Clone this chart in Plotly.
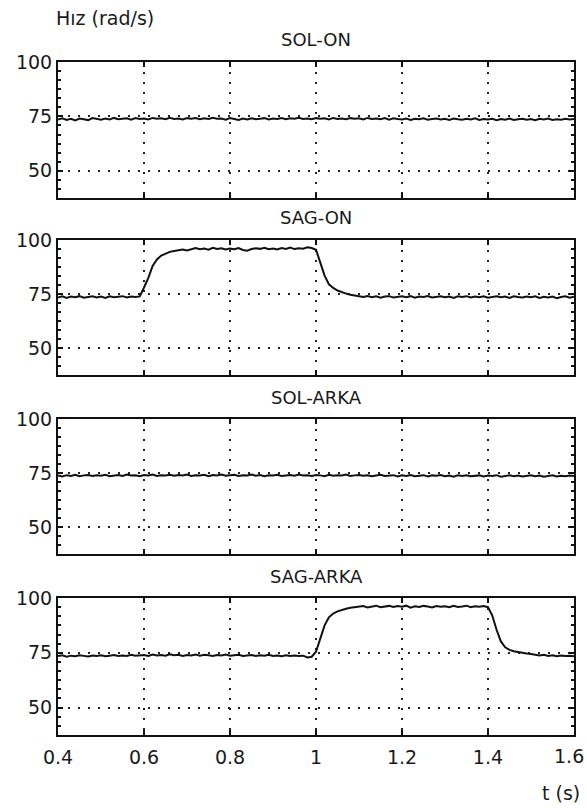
import plotly.graph_objects as go

# ---- data ----
t = [round(0.40 + 0.01 * i, 2) for i in range(121)]

panel_titles = ["SOL-ON", "SAG-ON", "SOL-ARKA", "SAG-ARKA"]

sol_on = [
    73.6, 74.1, 73.4, 73.9, 73.2, 74.0, 73.7, 73.3, 74.2, 73.8,
    73.5, 74.0, 73.6, 74.3, 73.7, 73.9, 74.1, 73.5, 74.2, 73.8,
    74.0, 73.6, 74.3, 73.9, 74.1, 73.7, 74.4, 73.8, 74.0, 73.6,
    74.2, 73.9, 74.3, 73.7, 74.1, 73.8, 74.4, 73.9, 74.0, 73.5,
    74.2, 73.8, 73.4, 74.0, 73.6, 74.1, 73.7, 73.9, 74.2, 73.6,
    74.0, 73.8, 74.3, 73.7, 74.1, 73.9, 74.4, 73.8, 74.0, 73.7,
    74.2, 73.9, 74.1, 73.6, 74.3, 73.8, 74.0, 73.7, 74.2, 73.9,
    74.1, 73.6, 74.3, 73.8, 74.0, 73.7, 74.2, 73.5, 74.1, 73.8,
    73.6, 74.0, 73.4, 73.9, 73.7, 74.1, 73.5, 73.8, 74.0, 73.6,
    73.9, 73.4, 74.0, 73.7, 73.5, 73.9, 73.6, 74.1, 73.4, 73.8,
    73.6, 73.9, 73.3, 73.8, 73.5, 74.0, 73.4, 73.7, 73.9, 73.5,
    73.8, 73.3, 73.9, 73.6, 74.0, 73.4, 73.7, 73.5, 73.9, 73.6,
    73.8,
]

sag_on = [
    73.4, 73.9, 73.2, 73.8, 73.5, 74.0, 73.3, 73.7, 73.9, 73.4,
    73.8, 73.2, 73.9, 73.5, 73.7, 74.0, 73.4, 73.8, 73.6, 73.9,
    78.0, 82.5, 88.0, 91.0, 92.8, 93.8, 94.5, 94.9, 95.3, 95.6,
    95.2, 95.9, 96.3, 95.7, 96.1, 95.5, 96.4, 95.8, 96.2, 95.6,
    96.0, 95.7, 96.3, 95.4, 95.0, 95.8, 96.2, 95.9, 96.4, 95.7,
    96.1, 95.6, 96.3, 95.9, 96.5, 95.8, 96.2, 96.0, 96.6, 96.3,
    95.5, 89.5, 83.5, 79.5, 77.8, 76.6, 75.8, 75.2, 74.6, 74.3,
    74.0, 73.6, 74.1, 73.5, 73.9, 73.3, 73.8, 74.0, 73.4, 73.7,
    73.9, 73.5, 74.0, 73.3, 73.8, 73.6, 74.1, 73.4, 73.7, 73.9,
    73.5, 73.8, 73.2, 73.9, 73.6, 74.0, 73.4, 73.8, 73.5, 73.9,
    73.3, 73.7, 74.0, 73.5, 73.8, 73.2, 73.9, 73.6, 73.4, 73.8,
    73.5, 73.9, 73.2, 73.7, 73.4, 73.8, 73.1, 73.6, 73.9, 73.3,
    73.7,
]

sol_arka = [
    73.8, 73.4, 74.0, 73.6, 74.2, 73.5, 73.9, 74.1, 73.6, 74.0,
    73.7, 74.2, 73.5, 73.9, 74.1, 73.6, 74.3, 73.8, 74.0, 73.5,
    74.1, 73.8, 74.3, 73.6, 74.0, 73.9, 74.2, 73.7, 74.1, 73.8,
    74.3, 73.6, 74.0, 73.9, 74.2, 73.5, 74.1, 73.8, 74.3, 73.7,
    73.9, 74.2, 73.6, 74.0, 73.8, 74.3, 73.7, 74.1, 73.5, 74.0,
    73.8, 74.2, 73.6, 73.9, 74.1, 73.7, 74.3, 73.8, 74.0, 73.6,
    74.1, 73.9, 73.5, 74.2, 73.7, 74.0, 73.8, 74.3, 73.6, 73.9,
    74.1, 73.7, 74.0, 73.5, 73.9, 74.2, 73.6, 73.8, 74.0, 73.4,
    73.9, 73.6, 74.1, 73.5, 73.8, 74.0, 73.4, 73.9, 73.7, 74.1,
    73.5, 73.8, 73.3, 73.9, 73.6, 74.0, 73.5, 73.7, 73.9, 73.4,
    73.8, 73.6, 74.0, 73.3, 73.7, 73.9, 73.5, 73.8, 73.4, 73.7,
    73.9, 73.5, 73.8, 73.3, 73.6, 73.9, 73.4, 73.7, 73.5, 73.8,
    73.6,
]

sag_arka = [
    73.5, 73.9, 73.2, 73.7, 73.4, 73.9, 73.6, 73.3, 73.8, 73.5,
    73.9, 73.4, 73.7, 74.0, 73.5, 73.8, 73.6, 74.1, 73.7, 73.9,
    74.0, 73.6, 74.2, 73.8, 74.0, 73.7, 74.3, 73.9, 74.1, 73.6,
    74.0, 73.8, 74.2, 73.7, 74.1, 73.9, 73.6, 74.0, 73.8, 74.2,
    73.7, 73.9, 74.1, 73.6, 73.8, 74.0, 73.5, 73.9, 73.7, 74.1,
    73.6, 73.8, 73.4, 73.9, 73.6, 73.8, 73.5, 73.7, 72.9, 73.2,
    75.5, 81.0, 87.5, 91.2, 92.9, 93.9, 94.6, 95.1, 95.5, 95.8,
    95.9, 96.3, 95.7, 96.1, 96.5, 95.8, 96.2, 96.4, 95.9, 96.3,
    96.0, 96.5, 95.6, 96.2, 95.9, 96.4, 96.1, 95.7, 96.3, 96.0,
    96.2, 95.8, 96.4, 95.9, 96.1, 96.5, 95.8, 96.2, 96.0, 96.3,
    95.8, 92.0, 85.5, 80.2, 77.5, 76.3, 75.7, 75.3, 75.0, 74.7,
    74.5, 74.2, 73.8, 74.1, 73.6, 73.9, 73.4, 73.8, 73.5, 73.7,
    73.4,
]

series = [sol_on, sag_on, sol_arka, sag_arka]

x_ticks = [0.4, 0.6, 0.8, 1.0, 1.2, 1.4, 1.6]
x_tick_text = ["0.4", "0.6", "0.8", "1", "1.2", "1.4", "1.6"]
y_ticks = [50, 75, 100]
y_tick_text = ["50", "75", "100"]

y_label = "Hız (rad/s)"
x_label = "t (s)"

# ---- layout geometry ----
W, H = 587, 808
ML, MR, MT, MB = 58, 13, 62, 73
plot_w = W - ML - MR
plot_h = H - MT - MB
panel_px = [(62, 198), (240, 375), (419, 554), (598, 735)]  # top, bottom pixel rows


def ypaper(pix):
    return (H - MB - pix) / plot_h


FONT = "DejaVu Sans"
TXT = "#1a1a1a"
fig = go.Figure()

# the last x label sits against the page edge; it is drawn as its own text,
# right-aligned to the edge, so that it is not cut off
shown_x_text = x_tick_text[:-1] + [""]

for i, vals in enumerate(series):
    n = i + 1
    sx = "" if n == 1 else str(n)
    fig.add_trace(go.Scatter(
        x=t, y=vals, mode="lines",
        line=dict(color="#111111", width=2),
        xaxis="x" + sx, yaxis="y" + sx,
        showlegend=False, hoverinfo="skip",
    ))
    top, bot = panel_px[i]
    grid = dict(showgrid=True, gridcolor="#222222", griddash="2px,8px", gridwidth=1.5)
    fig.layout["xaxis" + sx] = dict(
        domain=[0, 1], range=[0.3999, 1.6001], anchor="y" + sx,
        tickvals=x_ticks, ticktext=shown_x_text,
        showticklabels=(n == 4), automargin=False,
        ticks="inside", ticklen=5, tickwidth=1.5, tickcolor="#111111",
        showline=True, linecolor="#111111", linewidth=2, mirror="ticks",
        zeroline=False, fixedrange=True, ticklabelstandoff=4,
        tickfont=dict(family=FONT, size=19, color=TXT),
        **grid,
    )
    fig.layout["yaxis" + sx] = dict(
        domain=[ypaper(bot), ypaper(top)], range=[37.5, 100], anchor="x" + sx,
        tickvals=y_ticks, ticktext=y_tick_text, automargin=False,
        ticks="inside", ticklen=5, tickwidth=1.5, tickcolor="#111111",
        minor=dict(ticks="inside", ticklen=3, tickcolor="#111111",
                   tick0=50, dtick=25 / 6, showgrid=False),
        showline=True, linecolor="#111111", linewidth=2, mirror="ticks",
        zeroline=False, fixedrange=True,
        tickfont=dict(family=FONT, size=19, color=TXT),
        **grid,
    )
    fig.add_annotation(
        text=panel_titles[i], xref="paper", yref="paper",
        x=0.5, y=ypaper(top - 22), xanchor="center", yanchor="middle",
        showarrow=False, font=dict(family=FONT, size=18, color=TXT),
    )

fig.add_annotation(
    text=x_tick_text[-1], xref="paper", yref="paper",
    x=(586 - ML) / plot_w, y=ypaper(756), xanchor="right", yanchor="middle",
    showarrow=False, font=dict(family=FONT, size=19, color=TXT),
    xshift=0,
)
fig.add_annotation(
    text=y_label, xref="paper", yref="paper",
    x=(54 - ML) / plot_w, y=ypaper(18), xanchor="left", yanchor="middle",
    showarrow=False, font=dict(family=FONT, size=19, color=TXT),
)
fig.add_annotation(
    text=x_label, xref="paper", yref="paper",
    x=(582 - ML) / plot_w, y=ypaper(793), xanchor="right", yanchor="middle",
    showarrow=False, font=dict(family=FONT, size=19, color=TXT),
)

fig.update_layout(
    width=W, height=H,
    margin=dict(l=ML, r=MR, t=MT, b=MB, autoexpand=False),
    paper_bgcolor="white", plot_bgcolor="white",
)

fig.write_html("out.html")
